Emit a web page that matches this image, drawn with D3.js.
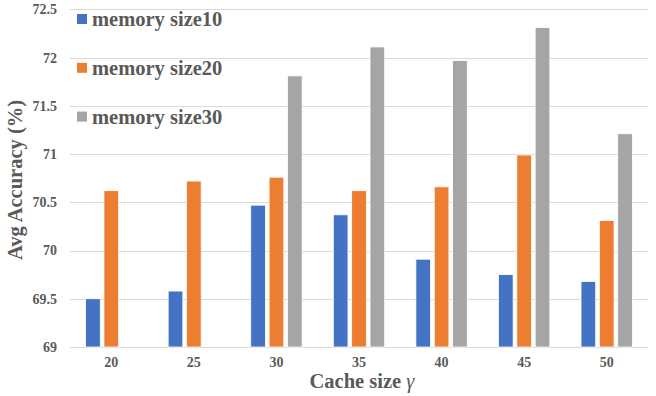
<!DOCTYPE html>
<html>
<head>
<meta charset="utf-8">
<script src="https://cdn.jsdelivr.net/npm/d3@7"></script>
<style>
  body { margin: 0; background: #fff; }
  svg text { font-family: 'Liberation Serif', 'Times New Roman', serif; }
</style>
</head>
<body>
<div id="chart"></div>
<script>
// data
var cacheSizes = ["20", "25", "30", "35", "40", "45", "50"];
var seriesNames = ["memory size10", "memory size20", "memory size30"];
var mem10 = [69.50, 69.58, 70.47, 70.37, 69.91, 69.75, 69.68];
var mem20 = [70.62, 70.72, 70.76, 70.62, 70.66, 70.99, 70.31];
var mem30 = [null, null, 71.81, 72.11, 71.97, 72.31, 71.21];
var yTicks = [69, 69.5, 70, 70.5, 71, 71.5, 72, 72.5];
var colors = ["#4472C4", "#ED7D31", "#A5A5A5"];

var allSeries = [mem10, mem20, mem30];
var textColor = "#595959";

var width = 656, height = 396;
var margin = {top: 9.3, right: 8, bottom: 49, left: 70};

var svg = d3.select("#chart")
  .append("svg")
  .attr("width", width)
  .attr("height", height)
  .attr("font-weight", "bold");

var x0 = d3.scaleBand()
  .domain(cacheSizes)
  .range([margin.left, width - margin.right])
  .padding(0);

var x1 = d3.scaleBand()
  .domain(seriesNames)
  .range([-25.7, 25.7])
  .paddingInner(0.2);

var y = d3.scaleLinear()
  .domain([69, 72.5])
  .range([height - margin.bottom, margin.top]);

// gridlines
svg.append("g")
  .selectAll("line")
  .data(yTicks)
  .enter().append("line")
  .attr("x1", margin.left)
  .attr("x2", width - margin.right)
  .attr("y1", function(d) { return Math.round(y(d)) + 0.5; })
  .attr("y2", function(d) { return Math.round(y(d)) + 0.5; })
  .attr("stroke", "#D9D9D9")
  .attr("stroke-width", 1);

// y axis labels
var yAxis = svg.append("g")
  .attr("transform", "translate(57,0)")
  .call(d3.axisLeft(y).tickValues(yTicks).tickSize(0).tickPadding(0).tickFormat(d3.format("")));
yAxis.attr("font-family", null).attr("font-size", 14);
yAxis.select(".domain").remove();
yAxis.selectAll("text").attr("fill", textColor);

// x axis labels
var xAxis = svg.append("g")
  .attr("transform", "translate(0," + (height - margin.bottom) + ")")
  .call(d3.axisBottom(x0).tickSize(0).tickPadding(10));
xAxis.attr("font-family", null).attr("font-size", 14);
xAxis.select(".domain").remove();
xAxis.selectAll("text").attr("fill", textColor);

// bars
seriesNames.forEach(function(name, s) {
  var rows = cacheSizes.map(function(c, i) { return {cat: c, value: allSeries[s][i]}; })
    .filter(function(d) { return d.value !== null; });
  svg.append("g")
    .selectAll("rect")
    .data(rows)
    .enter().append("rect")
    .attr("x", function(d) { return x0(d.cat) + x0.bandwidth() / 2 + x1(name); })
    .attr("width", x1.bandwidth())
    .attr("y", function(d) { return y(d.value); })
    .attr("height", function(d) { return y(69) - y(d.value); })
    .attr("fill", colors[s])
    .attr("stroke", "#fff")
    .attr("stroke-width", 0.8);
});

// legend
var legend = svg.selectAll(".legend")
  .data(seriesNames)
  .enter().append("g")
  .attr("class", "legend")
  .attr("transform", function(d, i) { return "translate(77," + (14 + i * 48.8) + ")"; });

legend.append("rect")
  .attr("width", 10)
  .attr("height", 10)
  .attr("fill", function(d, i) { return colors[i]; });

legend.append("text")
  .attr("x", 15)
  .attr("y", 12)
  .attr("font-size", 20.5)
  .attr("fill", textColor)
  .text(function(d) { return d; });

// axis titles
svg.append("text")
  .attr("transform", "translate(22,180) rotate(-90)")
  .attr("text-anchor", "middle")
  .attr("font-size", 20.5)
  .attr("fill", textColor)
  .text("Avg Accuracy (%)");

var xt = svg.append("text")
  .attr("x", 362)
  .attr("y", 388)
  .attr("text-anchor", "middle")
  .attr("font-size", 20.5)
  .attr("fill", textColor);
xt.append("tspan").text("Cache size ");
xt.append("tspan").attr("font-style", "italic").attr("font-weight", "normal").text("γ");
</script>
</body>
</html>
